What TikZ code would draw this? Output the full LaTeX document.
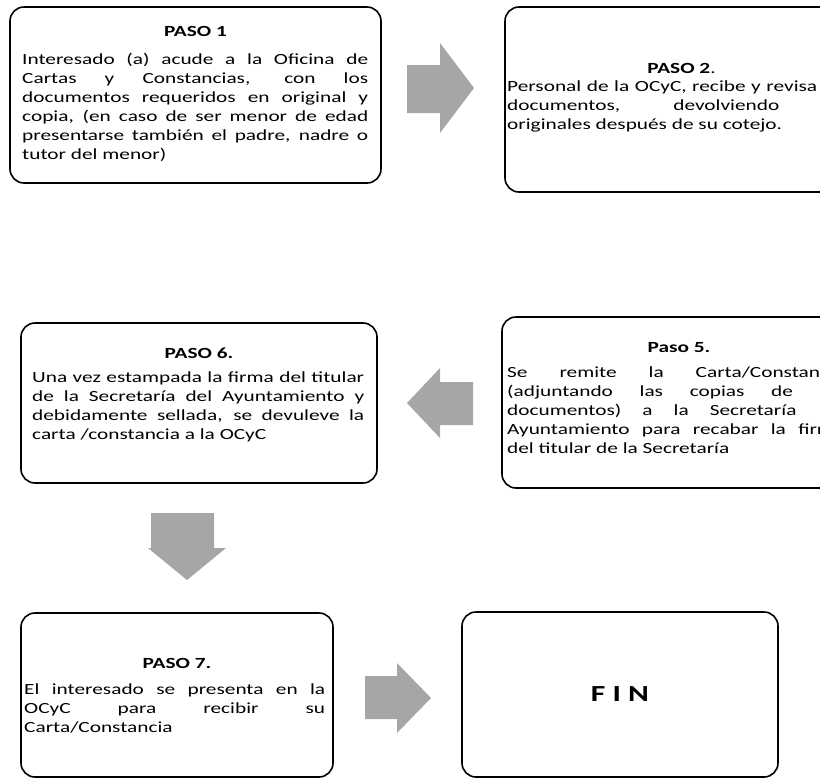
\documentclass[tikz,border=0pt]{standalone}
\usepackage{fontspec}
\setmainfont{Carlito}[FakeStretch=1.374]
\definecolor{grau}{HTML}{A6A6A6}
\hbadness=10000
\hyphenpenalty=10000

\begin{document}
\begin{tikzpicture}[x=1pt,y=-1pt,
	kasten/.style={draw,line width=1.6pt,rounded corners=14pt,inner sep=0pt},
	titel/.style={anchor=base,inner sep=0pt,font=\fontsize{15.5}{19}\selectfont\bfseries},
	rumpf/.style={anchor=base west,inner sep=0pt,align=justify,font=\fontsize{15.5}{19}\selectfont},
	pfeil/.style={fill=grau,draw=none}]
	\useasboundingbox (0,0) rectangle (820,780);
	\clip (0,0) rectangle (820,780);
	%Kaesten zeichnen
	\node[kasten,minimum width=371pt,minimum height=176pt] (paso1) at (195.5,95) {};
	\node[kasten,minimum width=353pt,minimum height=185pt] (paso2) at (681.5,99.5) {};
	\node[kasten,minimum width=354pt,minimum height=171pt] (paso5) at (679,402.5) {};
	\node[kasten,minimum width=356pt,minimum height=160pt] (paso6) at (199,403) {};
	\node[kasten,minimum width=312pt,minimum height=164pt] (paso7) at (177,695) {};
	\node[kasten,minimum width=316pt,minimum height=165pt,font=\fontsize{23}{28}\selectfont\bfseries] (fin) at (620,694.5) {F I N};
	% Ueberschriften
	\node[titel] (t1) at (195.5,36) {PASO 1};
	\node[titel] (t2) at (681.5,73) {PASO 2\mdseries.};
	\node[titel] (t5) at (679,352) {Paso 5.};
	\node[titel] (t6) at (199,358) {PASO 6.};
	\node[titel] (t7) at (177,668) {PASO 7.};
	% Texte
	\node[rumpf,text width=346pt] (r1) at (22,64) {Interesado (a) acude a la Oficina de\linebreak
		Cartas y Constancias, con los\linebreak
		documentos requeridos en original y\linebreak
		copia, (en caso de ser menor de edad\linebreak
		presentarse también el padre, nadre o\linebreak
		tutor del menor)};
	\node[rumpf,text width=340pt] (r2) at (507,91) {Personal de la OCyC, recibe y revisa \phantom{los}\linebreak
		documentos, devolviendo \phantom{los}\linebreak
		originales después de su cotejo.};
	\node[rumpf,text width=337pt] (r5) at (507,377) {Se remite la Carta/Constancia\linebreak
		(adjuntando las copias de \phantom{los}\linebreak
		documentos) a la Secretaría \phantom{del}\linebreak
		Ayuntamiento para recabar la firma\linebreak
		del titular de la Secretaría};
	\node[rumpf,text width=332pt] (r6) at (32,382) {Una vez estampada la firma del titular\linebreak
		de la Secretaría del Ayuntamiento y\linebreak
		debidamente sellada, se devuleve la\linebreak
		carta /constancia a la OCyC};
	\node[rumpf,text width=301pt] (r7) at (24,694) {El interesado se presenta en la\linebreak
		OCyC para recibir su\linebreak
		Carta/Constancia};
	%Pfeile
	\fill[pfeil] (407,65) -- (440,65) -- (440,43) -- (474,88) -- (440,133) -- (440,113) -- (407,113) -- cycle;
	\fill[pfeil] (473,382) -- (440,382) -- (440,368) -- (407,403) -- (440,438) -- (440,425) -- (473,425) -- cycle;
	\fill[pfeil] (151,513) -- (214,513) -- (214,548) -- (226,548) -- (187,580) -- (148,548) -- (151,548) -- cycle;
	\fill[pfeil] (365,676) -- (397,676) -- (397,663) -- (431,698) -- (397,733) -- (397,719) -- (365,719) -- cycle;
\end{tikzpicture}
\end{document}
